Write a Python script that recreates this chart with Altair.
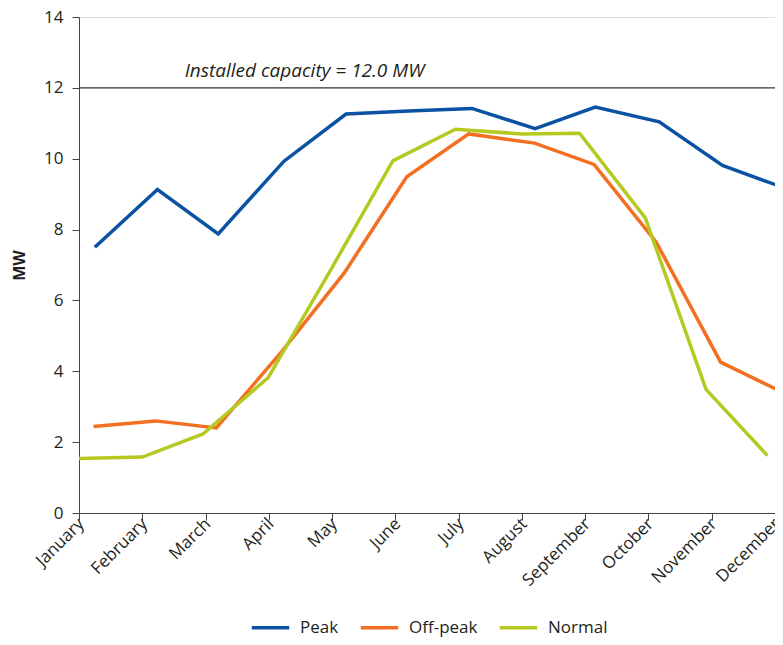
import altair as alt
import pandas as pd

months = ["January", "February", "March", "April", "May", "June", "July",
          "August", "September", "October", "November", "December"]

series_names = ["Peak", "Off-peak", "Normal"]
series_colors = ["#0b52a2", "#f36f21", "#b5c920"]

peak_x = [0.25, 1.24, 2.20, 3.24, 4.22, 5.21, 6.21, 7.21, 8.16, 9.17, 10.17, 11.08]
peak_y = [7.50, 9.13, 7.88, 9.93, 11.26, 11.35, 11.42, 10.85, 11.46, 11.04, 9.81, 9.22]

offpeak_x = [0.23, 1.21, 2.17, 3.20, 4.19, 5.18, 6.16, 7.20, 8.14, 9.12, 10.14, 11.08]
offpeak_y = [2.44, 2.60, 2.40, 4.55, 6.77, 9.49, 10.70, 10.44, 9.84, 7.65, 4.26, 3.44]

normal_x = [0.0, 1.0, 1.96, 2.99, 3.99, 4.96, 5.95, 6.99, 7.91, 8.95, 9.91, 10.88]
normal_y = [1.54, 1.58, 2.23, 3.82, 6.90, 9.94, 10.83, 10.70, 10.72, 8.33, 3.49, 1.62]

capacity = 12.0
capacity_label = "Installed capacity = 12.0 MW"

rows = []
for name, xs, ys in [("Peak", peak_x, peak_y), ("Off-peak", offpeak_x, offpeak_y),
                     ("Normal", normal_x, normal_y)]:
    for i, (xv, yv) in enumerate(zip(xs, ys)):
        rows.append({"series": name, "pos": xv, "MW": yv, "order": i})
df = pd.DataFrame(rows)

FONT = "Open Sans"
TXT = "#231f20"

label_expr = "[" + ",".join("'%s'" % m for m in months) + "][datum.value]"

x_enc = alt.X("pos:Q",
              scale=alt.Scale(domain=[0, 11], nice=False, zero=False),
              axis=alt.Axis(values=list(range(12)), labelExpr=label_expr,
                            labelAngle=-45, labelAlign="right", labelBaseline="middle",
                            title=None, grid=False, tickSize=7, labelPadding=1,
                            labelOffset=2,
                            labelFontSize=17, labelFont=FONT, labelColor=TXT,
                            domainColor="#444444", tickColor="#444444",
                            labelOverlap=False, labelBound=False, labelFlush=False))
y_enc = alt.Y("MW:Q",
              scale=alt.Scale(domain=[0, 14], nice=False),
              axis=alt.Axis(values=list(range(0, 15, 2)), title="MW", grid=False,
                            tickSize=7, labelPadding=9, labelFontSize=17,
                            labelFont=FONT, labelColor=TXT, titleFont=FONT,
                            titleFontSize=16, titleFontWeight="bold", titleColor=TXT,
                            titlePadding=16, domainColor="#444444", tickColor="#444444"))

lines = alt.Chart(df).mark_line(strokeWidth=3.5, clip=False).encode(
    x=x_enc,
    y=y_enc,
    order="order:Q",
    color=alt.Color("series:N",
                    scale=alt.Scale(domain=series_names, range=series_colors),
                    legend=alt.Legend(orient="none", legendX=171, legendY=590,
                                      direction="horizontal", title=None,
                                      symbolType="stroke", symbolStrokeWidth=3.5,
                                      symbolSize=1400, labelFontSize=17, labelFont=FONT,
                                      labelColor=TXT, labelOffset=9, columnPadding=14)),
)

cap_df = pd.DataFrame({"x1": [0.0], "x2": [11.0], "y": [capacity],
                       "tx": [1.67], "label": [capacity_label]})

cap_rule = alt.Chart(cap_df).mark_rule(color="#333333", strokeWidth=1.2).encode(
    x="x1:Q", x2="x2:Q", y="y:Q")
cap_text = alt.Chart(cap_df).mark_text(align="left", baseline="bottom", dy=-7,
                                       font=FONT, fontSize=19, fontStyle="italic",
                                       color=TXT).encode(
    x="tx:Q", y="y:Q", text="label:N")

chart = alt.layer(cap_rule, cap_text, lines).properties(
    width=696, height=496,
    autosize=alt.AutoSizeParams(type="none"),
    padding={"left": 71, "top": 9, "right": 0, "bottom": 124},
).configure_view(stroke=None).configure(background="white")

chart.save("out.html", embed_options={"renderer": "svg", "actions": False})
